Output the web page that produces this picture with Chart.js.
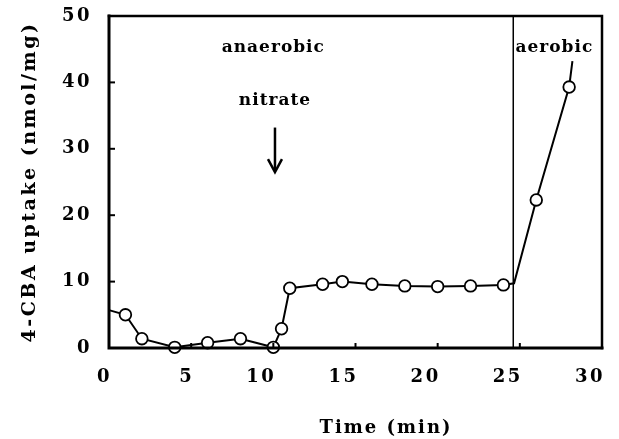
<!DOCTYPE html>
<html>
<head>
<meta charset="utf-8">
<script src="https://cdn.jsdelivr.net/npm/chart.js@4.4.0/dist/chart.umd.min.js"></script>
<style>
html,body{margin:0;padding:0;background:#fff;}
#wrap{width:619px;height:439px;}
</style>
</head>
<body>
<div id="wrap"><canvas id="c" width="619" height="439"></canvas></div>
<script>
// Data
const timeMin   = [0,   1,   2,   4,   6,   8,   10,  10.5, 11,  13,  14.2, 16,  18,   20,   22,   24,  24.65, 26,   28,   28.2];
const uptake    = [5.7, 5.0, 1.4, 0.1, 0.8, 1.4, 0.1, 2.9,  9.0, 9.6, 10.0, 9.6, 9.35, 9.25, 9.35, 9.5, 9.75,  22.3, 39.3, 43.2];
const hasMarker = [0,   1,   1,   1,   1,   1,   1,   1,    1,   1,   1,    1,   1,    1,    1,    1,   0,     1,    1,    0];
const xTicks = [0, 5, 10, 15, 20, 25, 30];
const yTicks = [0, 10, 20, 30, 40, 50];
const aerobicSwitch = 24.6;
const labelAnaerobic = {text: 'anaerobic', x: 10.0, y: 45.2};
const labelNitrate   = {text: 'nitrate',   x: 10.1, y: 37.2};
const arrowNitrate   = {x: 10.1, y0: 33.2, y1: 26.5};
const labelAerobic   = {text: 'aerobic',   x: 27.1, y: 45.2};
const xTitle = 'Time (min)';
const yTitle = '4-CBA uptake (nmol/mg)';

const FONT = '"DejaVu Serif", "Liberation Serif", serif';

const points = timeMin.map((t, i) => ({x: t, y: uptake[i]}));

const decor = {
  id: 'decor',
  beforeDraw(chart) {
    chart.ctx.letterSpacing = '2.5px';
  },
  afterDraw(chart) {
    const ctx = chart.ctx;
    const a = chart.chartArea;
    const xs = chart.scales.x, ys = chart.scales.y;
    ctx.save();
    ctx.strokeStyle = '#000';
    // frame
    ctx.lineCap = 'square';
    ctx.lineWidth = 3;
    ctx.beginPath();
    ctx.moveTo(a.left, a.top); ctx.lineTo(a.left, a.bottom); ctx.lineTo(a.right, a.bottom);
    ctx.stroke();
    ctx.lineWidth = 2.5;
    ctx.beginPath();
    ctx.moveTo(a.left, a.top); ctx.lineTo(a.right, a.top); ctx.lineTo(a.right, a.bottom);
    ctx.stroke();
    // inside ticks
    ctx.lineWidth = 2;
    ctx.lineCap = 'butt';
    yTicks.forEach(v => {
      if (v === 0 || v === 50) return;
      const py = ys.getPixelForValue(v);
      ctx.beginPath(); ctx.moveTo(a.left, py); ctx.lineTo(a.left + 6, py); ctx.stroke();
    });
    xTicks.forEach(v => {
      if (v === 0 || v === 30) return;
      const px = xs.getPixelForValue(v);
      ctx.beginPath(); ctx.moveTo(px, a.bottom); ctx.lineTo(px, a.bottom - 5); ctx.stroke();
    });
    // aerobic switch line
    ctx.lineWidth = 1.5;
    const vx = xs.getPixelForValue(aerobicSwitch);
    ctx.beginPath(); ctx.moveTo(vx, a.top); ctx.lineTo(vx, a.bottom); ctx.stroke();
    // labels
    ctx.fillStyle = '#000';
    ctx.font = 'bold 17px ' + FONT;
    ctx.letterSpacing = '1px';
    ctx.textAlign = 'center';
    ctx.textBaseline = 'middle';
    [labelAnaerobic, labelNitrate, labelAerobic].forEach(l => {
      ctx.fillText(l.text, xs.getPixelForValue(l.x), ys.getPixelForValue(l.y));
    });
    // arrow
    const ax = xs.getPixelForValue(arrowNitrate.x);
    const ay0 = ys.getPixelForValue(arrowNitrate.y0);
    const ay1 = ys.getPixelForValue(arrowNitrate.y1);
    ctx.lineWidth = 2.5;
    ctx.beginPath(); ctx.moveTo(ax, ay0); ctx.lineTo(ax, ay1 - 2); ctx.stroke();
    ctx.beginPath();
    ctx.moveTo(ax - 7, ay1 - 13); ctx.lineTo(ax, ay1); ctx.lineTo(ax + 7, ay1 - 13);
    ctx.stroke();
    // x title
    ctx.font = 'bold 18px ' + FONT;
    ctx.letterSpacing = '2px';
    ctx.fillText(xTitle, 386, 428);
    ctx.restore();
  }
};

new Chart(document.getElementById('c'), {
  type: 'line',
  data: {
    datasets: [{
      data: points,
      borderColor: '#000',
      borderWidth: 2,
      backgroundColor: '#fff',
      pointBackgroundColor: '#fff',
      pointBorderColor: '#000',
      pointBorderWidth: 1.8,
      pointRadius: hasMarker.map(m => m ? 5.8 : 0),
      tension: 0,
      clip: false
    }]
  },
  options: {
    responsive: false,
    animation: false,
    devicePixelRatio: 1,
    layout: {autoPadding: false, padding: {top: 16, right: 17, left: 0, bottom: 0}},
    plugins: {legend: {display: false}, tooltip: {enabled: false}},
    scales: {
      x: {
        type: 'linear', min: 0, max: 30,
        afterFit: s => { s.height = 91; s.paddingLeft = 0; s.paddingRight = 0; },
        afterBuildTicks: s => { s.ticks = xTicks.map(v => ({value: v})); },
        grid: {display: false, drawTicks: false},
        border: {display: false},
        ticks: {color: '#000', font: {family: FONT, size: 18, weight: 'bold'}, padding: 19, align: 'end', labelOffset: 3, maxRotation: 0}
      },
      y: {
        type: 'linear', min: 0, max: 50,
        afterFit: s => { s.width = 109; s.paddingTop = 0; s.paddingBottom = 0; },
        afterBuildTicks: s => { s.ticks = yTicks.map(v => ({value: v})); },
        grid: {display: false, drawTicks: false},
        border: {display: false},
        ticks: {color: '#000', font: {family: FONT, size: 18, weight: 'bold'}, padding: 17},
        title: {display: true, text: yTitle, color: '#000', font: {family: FONT, size: 19, weight: 'bold'}, padding: {top: 19, bottom: 0}}
      }
    }
  },
  plugins: [decor]
});
</script>
</body>
</html>
